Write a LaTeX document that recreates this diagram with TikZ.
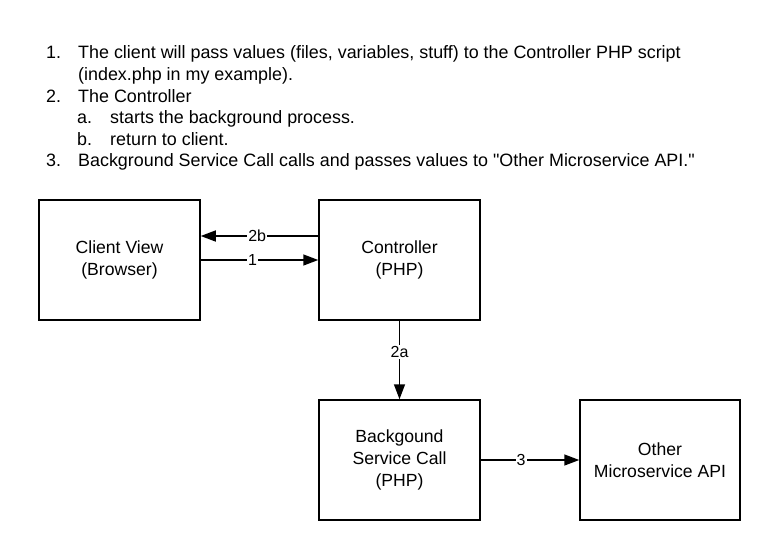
\documentclass[tikz,border=0pt]{standalone}
\usepackage{fontspec}
\setmainfont{Liberation Sans}[Ligatures=TeXOff]
\usetikzlibrary{arrows.meta}
\begin{document}
\begin{tikzpicture}[x=1pt,y=-1pt,
  box/.style={draw,line width=1.5pt,minimum width=161pt,minimum height=120pt,inner sep=0pt,align=center,font=\fontsize{17.6}{22}\selectfont},
  conn/.style={line width=1.5pt,-{Triangle[length=15pt,width=11pt]}},
  lbl/.style={fill=white,inner sep=1pt,font=\fontsize{16}{18}\selectfont},
  item/.style={anchor=base west,inner sep=0pt,font=\fontsize{17.9}{21}\selectfont}]
\fill[white] (0,0) rectangle (780,560);
\useasboundingbox (0,0) rectangle (780,560);
% list
\node[item] (n1) at (46,58) {1.};
\node[item] (t1) at (78,58) {The client will pass values (files, variables, stuff) to the Controller PHP script};
\node[item] (t1b) at (78,80) {(index.php in my example).};
\node[item] (n2) at (46,102) {2.};
\node[item] (t2) at (78,102) {The Controller};
\node[item] (n2a) at (77,123) {a.};
\node[item] (t2a) at (110,123) {starts the background process.};
\node[item] (n2b) at (77,145) {b.};
\node[item] (t2b) at (110,145) {return to client.};
\node[item] (n3) at (46,166) {3.};
\node[item] (t3) at (78,166) {Background Service Call calls and passes values to "Other Microservice API."};
% boxes
\node[box] (client) at (119.5,260) {Client View\\(Browser)};
\node[box] (ctrl) at (399.5,260) {Controller\\(PHP)};
\node[box] (bg) at (399.5,460) {Backgound\\Service Call\\(PHP)};
\node[box, minimum width=160pt] (other) at (660,460) {Other\\Microservice API};
% connectors
\draw[conn] ([yshift=24pt]ctrl.west) -- node[lbl,pos=0.52]{2b} ([yshift=24pt]client.east);
\draw[conn] (client.east) -- node[lbl,pos=0.44]{1} (ctrl.west);
\draw[conn] (ctrl.south) -- node[lbl,pos=0.4]{2a} (bg.north);
\draw[conn] (bg.east) -- node[lbl,pos=0.41]{3} (other.west);
\end{tikzpicture}
\end{document}
